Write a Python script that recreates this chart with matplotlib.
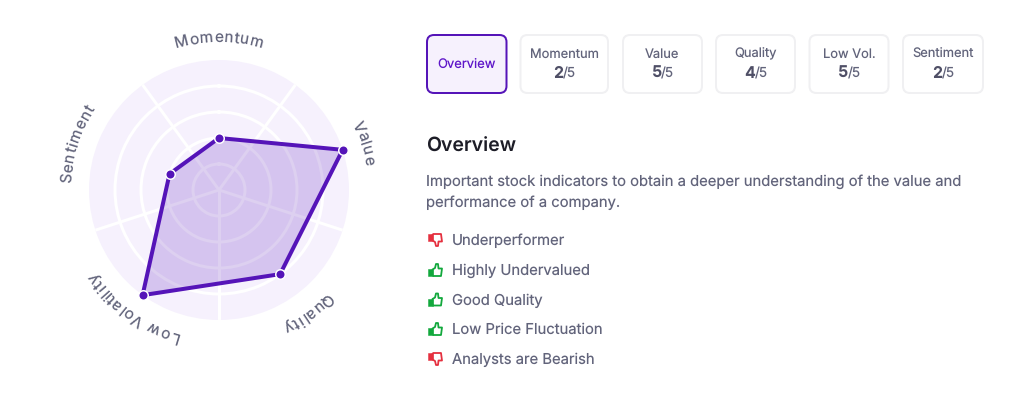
# coding: utf-8
"""
Radar chart of the stock scores with the overview panel beside it
"""
import numpy as np
from matplotlib import pyplot as plt
from matplotlib.font_manager import FontProperties
from matplotlib.patches import FancyBboxPatch, PathPatch, Rectangle
from matplotlib.path import Path
from matplotlib.textpath import TextPath

axes_labels = ["Momentum", "Value", "Quality", "Low Volatility", "Sentiment"]
scores = [2, 5, 4, 5, 2]
max_score = 5

card_labels = ["Momentum", "Value", "Quality", "Low Vol.", "Sentiment"]
card_scores = [2, 5, 4, 5, 2]

heading = "Overview"
description = ["Important stock indicators to obtain a deeper understanding of the value and",
               "performance of a company."]
verdicts = ["Underperformer", "Highly Undervalued", "Good Quality",
            "Low Price Fluctuation", "Analysts are Bearish"]
verdict_good = [False, True, True, True, False]

PURPLE = "#5514b8"
TEXT = "#62647b"
px = 0.72  # points per pixel at dpi 100

plt.rcParams['font.family'] = ['Inter', 'DejaVu Sans']
plt.rcParams['text.hinting'] = 'no_hinting'
plt.rcParams['text.hinting_factor'] = 1
fig = plt.figure(figsize=(10.24, 3.95), dpi=100)


def text_width(s, size, weight="normal"):
    fp = FontProperties(family="Inter", weight=weight)
    return TextPath((0, 0), s, size=size, prop=fp).get_extents().width


# radar
cx, cy, radius = 219, 190, 130
ax = fig.add_axes([(cx-radius)/1024, (395-cy-radius)/395, 2*radius/1024, 2*radius/395],
                  projection='polar')
ax.set_theta_zero_location('N')
ax.set_theta_direction(-1)
ax.set_facecolor("#f6f1fd")
ax.spines['polar'].set_visible(False)
ax.set_ylim(0, max_score)
angles = np.arange(len(scores)) * 2*np.pi/len(scores)
spokes = angles + np.pi/len(scores)
ax.set_xticks(spokes)
ax.set_xticklabels([])
ax.set_yticks(range(1, max_score))
ax.set_yticklabels([])
ax.tick_params(length=0)
ax.grid(color="white", linewidth=3*px)

theta = np.append(angles, angles[0])
vals = np.append(scores, scores[0])
ax.fill(theta, vals, color=PURPLE, alpha=0.2, linewidth=0, zorder=3)
ax.plot(theta, vals, color=PURPLE, linewidth=4*px, zorder=4, clip_on=False)
ax.plot(angles, scores, 'o', color=PURPLE, markersize=9.5*px, markeredgecolor="white",
        markeredgewidth=1.5*px, zorder=5, clip_on=False)

# curved axis labels, one text per character
label_size = 15.5
spacing = 0.7
baseline = 148
for label, ang in zip(axes_labels, angles):
    widths = [text_width("n" + c + "n", label_size) - text_width("nn", label_size) for c in label]
    total = sum(widths) + spacing*(len(label)-1)
    pos = -total/2
    for c, w in zip(label, widths):
        a = ang + (pos + w/2)/baseline
        ax.text(a, max_score*baseline/radius, c, fontsize=label_size*px, color=TEXT,
                rotation=-np.degrees(a), rotation_mode='anchor', ha='center', va='baseline',
                clip_on=False)
        pos += w + spacing

# right panel in pixel coordinates
panel = fig.add_axes([0, 0, 1, 1], facecolor="none")
panel.set_xlim(0, 1024)
panel.set_ylim(395, 0)
panel.axis('off')


def card(x0, x1, edge, face, lw):
    panel.add_patch(FancyBboxPatch((x0+7, 35+7), x1-x0-14, 58-14, boxstyle="round,pad=7,rounding_size=7",
                                   edgecolor=edge, facecolor=face, linewidth=lw*px))


card(427, 506.5, PURPLE, "#f6f1fd", 2)
panel.text(466.5, 68, heading, fontsize=13*px, color="#5f17c9", ha='center', va='baseline')

card_x = [(520.5, 608), (623, 702), (716, 795), (809.5, 888.5), (903, 983)]
for (x0, x1), name, score in zip(card_x, card_labels, card_scores):
    card(x0, x1, "#f0f0f2", "white", 2)
    mid = 0.5*(x0 + x1)
    panel.text(mid, 57.5, name, fontsize=12.9*px, color=TEXT, ha='center', va='baseline')
    w_num = text_width(str(score), 16, "bold")
    w_den = text_width("/5", 13.5)
    left = mid - (w_num + w_den + 1)/2
    panel.text(left, 78, str(score), fontsize=16*px, color="#4f4f66", weight='bold', ha='left', va='baseline')
    panel.text(left + w_num + 1, 78, "/5", fontsize=13.5*px, color=TEXT, ha='left', va='baseline')

panel.text(426, 151.5, heading, fontsize=19.5*px, color="#1d1d27", weight='semibold', va='baseline')
for i, line in enumerate(description):
    panel.text(426.5, 186 + 20.5*i, line, fontsize=14.8*px, color=TEXT, va='baseline')


def thumb(x, y, good):
    # hand outline, drawn for thumbs up and mirrored vertically for thumbs down
    s = 1 if good else -1
    c = "#12a83c" if good else "#e5303f"
    hand = [(-2, 6), (-2, -0.5), (0.5, -2), (1.5, -6), (3.5, -6), (4, -1.5),
            (7.5, -1.5), (6.5, 6), (-2, 6)]
    verts = [(x + a, y + s*b) for a, b in hand]
    panel.add_patch(PathPatch(Path(verts), facecolor="white", edgecolor=c, linewidth=1.8*px,
                              joinstyle='round'))
    y0 = y - 1 if good else y - 6
    panel.add_patch(Rectangle((x - 6.5, y0), 4.5, 7, facecolor=c, edgecolor=c, linewidth=0.5*px))


verdict_y = [240, 270, 299.5, 329, 359]
for y, line, good in zip(verdict_y, verdicts, verdict_good):
    thumb(434.5, y, good)
    panel.text(451.5, y + 5, line, fontsize=14.8*px, color=TEXT, va='baseline')

fig.savefig("out.png", dpi=100)
